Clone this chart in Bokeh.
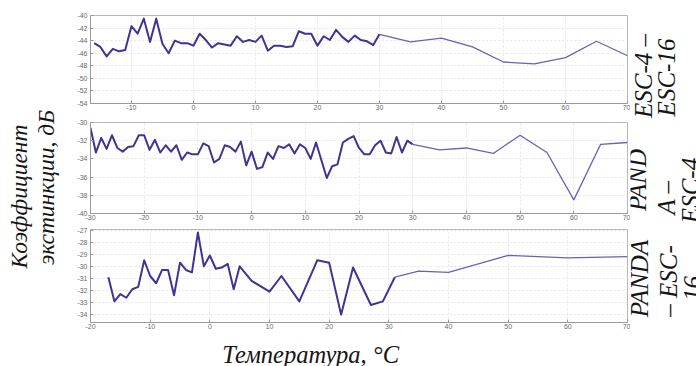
import math
from bokeh.plotting import figure
from bokeh.layouts import row, column
from bokeh.models import Range1d, FixedTicker, CustomJSTickFormatter
from bokeh.embed import file_html
from bokeh.resources import INLINE
from bokeh.core.properties import value

# ---------------- data ----------------
# Panel 1: ESC-4 - ESC-16
t1 = [-16, -15, -14, -13, -12, -11, -10, -9, -8, -7, -6, -5, -4, -3, -2, -1, 0, 1, 2, 3,
      4, 5, 6, 7, 8, 9, 10, 11, 12, 13, 14, 15, 16, 17, 18, 19, 20, 21, 22, 23,
      24, 25, 26, 27, 28, 29, 30, 35, 40, 45, 50, 55, 60, 65, 70]
k1 = [-44.4, -45.0, -46.5, -45.3, -45.7, -45.5, -41.7, -42.9, -40.5, -44.2, -40.5, -44.5,
      -46.0, -44.0, -44.4, -44.4, -44.8, -42.9, -43.9, -45.1, -44.4, -44.6, -44.8, -43.3,
      -44.2, -43.9, -44.2, -43.2, -45.6, -44.8, -44.8, -45.0, -44.9, -42.5, -42.9, -42.9,
      -44.8, -43.3, -43.9, -42.3, -43.4, -44.2, -43.2, -43.9, -44.1, -44.7, -43.0,
      -44.2, -43.6, -45.0, -47.4, -47.7, -46.7, -44.1, -46.4]

# Panel 2: PANDA - ESC-4
t2 = [-30, -29, -28, -27, -26, -25, -24, -23, -22, -21, -20, -19, -18, -17, -16, -15, -14,
      -13, -12, -11, -10, -9, -8, -7, -6, -5, -4, -3, -2, -1, 0, 1, 2, 3, 4, 5, 6, 7, 8,
      9, 10, 11, 12, 14, 15, 16, 17, 18, 19, 20, 21, 22, 23, 24, 25, 26, 27, 28, 29, 30,
      35, 40, 45, 50, 55, 60, 65, 70]
k2 = [-30.6, -33.3, -31.7, -32.9, -31.4, -32.8, -33.2, -32.7, -32.6, -31.4, -31.4, -33.0,
      -31.9, -33.3, -32.5, -33.2, -32.5, -34.1, -33.3, -33.5, -33.5, -32.3, -32.6, -34.4,
      -34.0, -32.5, -32.7, -33.2, -32.1, -34.7, -33.2, -35.1, -34.9, -33.3, -34.0, -32.6,
      -32.8, -32.4, -33.4, -32.4, -32.8, -34.0, -32.2, -36.1, -34.8, -34.6, -32.2, -31.8,
      -31.5, -32.8, -33.5, -33.5, -32.5, -32.0, -33.3, -33.4, -31.6, -33.3, -32.0, -32.4,
      -33.0, -32.8, -33.4, -31.4, -33.3, -38.5, -32.4, -32.2]

# Panel 3: PANDA - ESC-16
t3 = [-17, -16, -15, -14, -13, -12, -11, -10, -9, -8, -7, -6, -5, -4, -3, -2, -1, 0, 1, 2,
      3, 4, 5, 7, 10, 12, 15, 18, 20, 22, 24, 27, 29, 31, 35, 40, 50, 60, 70]
k3 = [-30.9, -32.9, -32.3, -32.6, -31.9, -31.7, -29.5, -30.8, -31.4, -30.3, -30.3, -32.4,
      -29.7, -30.3, -30.5, -27.2, -30.0, -29.1, -30.2, -30.1, -29.8, -31.9, -30.0, -31.2,
      -32.1, -30.8, -32.9, -29.5, -29.7, -34.0, -30.1, -33.2, -32.9, -30.9, -30.4, -30.5,
      -29.1, -29.3, -29.2]

x_ticks1 = [-10, 0, 10, 20, 30, 40, 50, 60, 70]
y_ticks1 = [-54, -52, -50, -48, -46, -44, -42, -40]
x_ticks2 = [-30, -20, -10, 0, 10, 20, 30, 40, 50, 60, 70]
y_ticks2 = [-40, -38, -36, -34, -32, -30]
x_ticks3 = [-20, -10, 0, 10, 20, 30, 40, 50, 60, 70]
y_ticks3 = [-34, -33, -32, -31, -30, -29, -28, -27]

labels_right = [["ESC-4 \u2013", "ESC-16"], ["PAND", "A \u2013", "ESC-4"], ["PANDA", "\u2013 ESC-", "16"]]
y_title = ["Коэффициент", "экстинкции, дБ"]
x_title = "Температура, °C"

# ---------------- styling helpers ----------------
DARK = "#3f3494"
LIGHT = "#6a62b0"
AXC = "#9a9a9a"
TXT = "#6a6a6a"
SERIF = value("Liberation Serif")
fmt = CustomJSTickFormatter(code="return String(tick);")


def panel(t, k, split, xr, yr, xt, yt, w, h, bl, br, bt, bb):
    p = figure(width=w, height=h, x_range=Range1d(*xr), y_range=Range1d(*yr),
               output_backend="svg", toolbar_location=None,
               min_border_left=bl, min_border_right=br, min_border_top=bt, min_border_bottom=bb)
    p.outline_line_color = "#b8b8b8"
    p.background_fill_color = "white"
    p.border_fill_color = "white"
    for ax, ticks, so in ((p.xaxis[0], xt, 1), (p.yaxis[0], yt, 3)):
        ax.ticker = FixedTicker(ticks=ticks)
        ax.formatter = fmt
        ax.axis_line_color = AXC
        ax.major_tick_line_color = AXC
        ax.major_tick_in = 3
        ax.major_tick_out = 0
        ax.minor_tick_line_color = None
        ax.major_label_text_font = "Liberation Sans"
        ax.major_label_text_font_size = "7px"
        ax.major_label_text_color = TXT
        ax.major_label_standoff = so
    p.xgrid.ticker = FixedTicker(ticks=xt)
    p.ygrid.ticker = FixedTicker(ticks=yt)
    p.grid.grid_line_color = "#e6e6e6"
    p.grid.grid_line_dash = "2 2"
    tx_d = [a for a in t if a <= split]
    ky_d = [b for a, b in zip(t, k) if a <= split]
    tx_s = [a for a in t if a >= split]
    ky_s = [b for a, b in zip(t, k) if a >= split]
    p.line(tx_s, ky_s, line_color=LIGHT, line_width=1.3)
    p.line(tx_d, ky_d, line_color=DARK, line_width=2.0, line_join="round")
    return p


p1 = panel(t1, k1, 30, (-16.6, 70), (-54, -40), x_ticks1, y_ticks1, 566, 115, 26, 2, 15, 12)
p2 = panel(t2, k2, 30, (-30, 70), (-40, -30), x_ticks2, y_ticks2, 566, 110, 23, 3, 7, 12)
p3 = panel(t3, k3, 31, (-20, 70), (-34.65, -26.95), x_ticks3, y_ticks3, 566, 107, 23, 2, 4, 10)


def text_fig(w, h):
    f = figure(width=w, height=h, x_range=Range1d(0, w), y_range=Range1d(0, h),
               output_backend="svg", toolbar_location=None, min_border=0,
               x_axis_type=None, y_axis_type=None)
    f.outline_line_color = None
    f.background_fill_color = "white"
    f.border_fill_color = "white"
    return f


# left title (64 x 366)
lf = text_fig(64, 366)
lf.text(x=[18, 45], y=[170, 179], text=y_title, angle=math.pi / 2,
        text_align="center", text_baseline="middle", text_font=SERIF,
        text_font_style="italic", text_font_size="23.5px", text_color="#151515")

# right labels (66 x 366)
rf = text_fig(66, 366)
rf.text(x=[13, 36, 7, 36, 60, 9, 38, 62],
        y=[290.5, 289, 186.5, 169, 176, 88, 85.5, 78],
        text=labels_right[0] + labels_right[1] + labels_right[2],
        angle=math.pi / 2, text_align="center", text_baseline="middle",
        text_font=SERIF, text_font_style="italic", text_font_size="25px",
        text_color="#151515")

# bottom title (566 x 34)
bf = text_fig(566, 34)
bf.text(x=[232], y=[12.5], text=[x_title], text_align="center", text_baseline="middle",
        text_font=SERIF, text_font_style="italic", text_font_size="24.5px",
        text_color="#151515")

layout = row(lf, column(p1, p2, p3, bf), rf)
open("out.html", "w").write(file_html(layout, INLINE))
